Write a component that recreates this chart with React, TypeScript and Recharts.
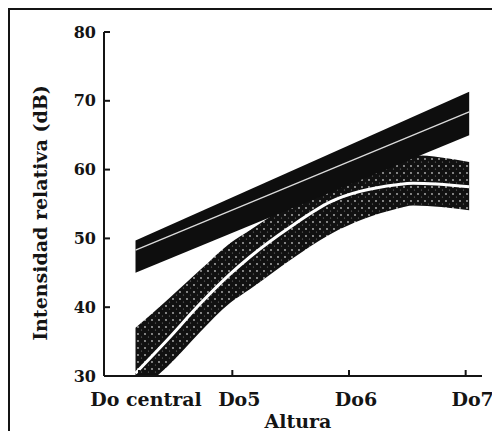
import React from "react";
import { ComposedChart, Area, Line, XAxis, YAxis } from "recharts";

// x is in octaves (Do central ~ 4, Do5 = 5, ...), y in dB
const xTicks = [4.2, 5, 6, 7];
const xTickLabels = ["Do central", "Do5", "Do6", "Do7"];
const yTicks = [30, 40, 50, 60, 70, 80];

// straight solid band
const solidX = [4.17, 7.03];
const solidLow = [45.0, 65.0];
const solidMid = [48.3, 68.4];
const solidHigh = [49.7, 71.3];

// curved speckled band
const speckX = [4.17, 4.44, 4.73, 4.98, 5.15, 5.5, 5.84, 6.41, 6.55, 7.03];
const speckLow = [27.5, 31.3, 36.5, 40.6, 42.6, 46.9, 50.6, 54.3, 54.8, 54.1];
const speckMid = [30.4, 35.2, 40.6, 44.8, 47.3, 51.7, 55.3, 57.8, 58.0, 57.5];
const speckHigh = [37.0, 41.0, 45.5, 49.3, 51.2, 55.0, 58.0, 61.5, 62.1, 61.1];

const solidData = solidX.map((x, i) => ({
  x,
  band: [solidLow[i], solidHigh[i]],
  mid: solidMid[i],
}));

const speckData = speckX.map((x, i) => ({
  x,
  band: [speckLow[i], speckHigh[i]],
  mid: speckMid[i],
}));

const font = "'DejaVu Serif', serif";
const ink = "#141414";

function YTick(props: any) {
  const { x, y, payload } = props;
  return (
    <text
      x={x - 8}
      y={y}
      dy={5.5}
      textAnchor="end"
      fontFamily={font}
      fontWeight="bold"
      fontSize={16}
      fill={ink}
    >
      {payload.value}
    </text>
  );
}

function XTick(props: any) {
  const { x, y, payload, index } = props;
  return (
    <text
      x={x + 7}
      y={y + 30}
      textAnchor="middle"
      fontFamily={font}
      fontWeight="bold"
      fontSize={19}
      fill={ink}
    >
      {xTickLabels[index] ?? payload.value}
    </text>
  );
}

export default function App() {
  return (
    <div
      style={{
        width: 486,
        height: 423,
        boxSizing: "border-box",
        borderTop: `2px solid ${ink}`,
        borderLeft: `2px solid ${ink}`,
        background: "#fff",
      }}
    >
      <ComposedChart
        width={484}
        height={421}
        margin={{ top: 22, right: 12, bottom: 0, left: 0 }}
      >
        <defs>
          <pattern id="speckle" width="7" height="7" patternUnits="userSpaceOnUse">
            <rect width="7" height="7" fill="#111" />
            <circle cx="2" cy="2" r="0.9" fill="#fff" opacity={0.7} />
            <circle cx="5.5" cy="5" r="0.6" fill="#fff" opacity={0.45} />
          </pattern>
        </defs>
        <XAxis
          dataKey="x"
          type="number"
          domain={[3.9, 7.14]}
          ticks={xTicks}
          allowDataOverflow
          height={55}
          tickSize={-6}
          tickMargin={6}
          tick={<XTick />}
          axisLine={{ stroke: ink, strokeWidth: 2 }}
          tickLine={{ stroke: ink, strokeWidth: 2 }}
          label={{
            value: "Altura",
            position: "insideBottom",
            offset: 3,
            dx: 5,
            fontFamily: font,
            fontWeight: "bold",
            fontSize: 19,
            fill: ink,
          }}
        />
        <YAxis
          type="number"
          domain={[30, 80]}
          ticks={yTicks}
          allowDataOverflow
          width={94}
          tickSize={-6}
          tickMargin={6}
          tick={<YTick />}
          axisLine={{ stroke: ink, strokeWidth: 2 }}
          tickLine={{ stroke: ink, strokeWidth: 2 }}
          label={{
            value: "Intensidad relativa (dB)",
            angle: -90,
            position: "center",
            dx: -17,
            dy: 9,
            fontFamily: font,
            fontWeight: "bold",
            fontSize: 19,
            fill: ink,
          }}
        />
        <Area
          data={speckData}
          dataKey="band"
          type="monotone"
          stroke="none"
          fill="url(#speckle)"
          fillOpacity={1}
          isAnimationActive={false}
        />
        <Line
          data={speckData}
          dataKey="mid"
          type="monotone"
          stroke="#fff"
          strokeWidth={3}
          dot={false}
          isAnimationActive={false}
        />
        <Area
          data={solidData}
          dataKey="band"
          type="linear"
          stroke="none"
          fill="#0e0e0e"
          fillOpacity={1}
          isAnimationActive={false}
        />
        <Line
          data={solidData}
          dataKey="mid"
          type="linear"
          stroke="#dcdcdc"
          strokeWidth={1.3}
          dot={false}
          isAnimationActive={false}
        />
      </ComposedChart>
    </div>
  );
}
